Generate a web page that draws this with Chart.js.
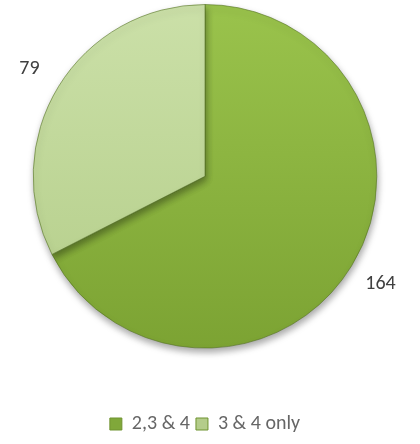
<!DOCTYPE html>
<html>
<head>
<meta charset="utf-8">
<script src="https://cdn.jsdelivr.net/npm/chart.js@4.4.1/dist/chart.umd.min.js"></script>
<style>
  html, body { margin: 0; padding: 0; background: #fff; }
  #wrap { width: 420px; height: 444px; }
</style>
</head>
<body>
<div id="wrap"><canvas id="canvas1"></canvas></div>
<script>
var categories = ['2,3 & 4', '3 & 4 only'];
var counts = [164, 79];
var topColors = ['#9ac34c', '#cbe0a8'];
var bottomColors = ['#7ca333', '#b3cd88'];
var boxColors = ['#80a83a', '#b4cc8a'];

// vertical gradient, lighter at top like the office-style bevel
function sliceFill(context) {
    var chart = context.chart;
    var area = chart.chartArea;
    var i = context.dataIndex;
    if (!area) return topColors[i];
    var g = chart.ctx.createLinearGradient(0, area.top, 0, area.bottom);
    g.addColorStop(0, topColors[i]);
    g.addColorStop(1, bottomColors[i]);
    return g;
}

var shadowPlugin = {
    id: 'pieShadow',
    beforeDatasetDraw: function(chart) {
        var ctx = chart.ctx;
        ctx.save();
        ctx.shadowColor = 'rgba(0,0,0,0.35)';
        ctx.shadowBlur = 7;
        ctx.shadowOffsetX = 1;
        ctx.shadowOffsetY = 4;
    },
    afterDatasetDraw: function(chart) {
        chart.ctx.restore();
    }
};

var outsideLabels = {
    id: 'outsideLabels',
    afterDatasetsDraw: function(chart) {
        var ctx = chart.ctx;
        var meta = chart.getDatasetMeta(0);
        ctx.save();
        ctx.font = '20px Carlito, Lato, sans-serif';
        ctx.fillStyle = '#404040';
        ctx.textAlign = 'center';
        ctx.textBaseline = 'middle';
        meta.data.forEach(function(arc, i) {
            var mid = (arc.startAngle + arc.endAngle) / 2;
            var r = arc.outerRadius + 34;
            var x = arc.x + Math.cos(mid) * r;
            var y = arc.y + Math.sin(mid) * r;
            ctx.fillText(String(chart.data.datasets[0].data[i]), x, y);
        });
        ctx.restore();
    }
};

var chartdata = {
    labels: categories,
    datasets: [
        {
            data: counts,
            backgroundColor: sliceFill,
            borderColor: 'rgba(85,115,35,0.6)',
            borderWidth: 1,
            hoverOffset: 0
        }
    ]
};

var ctx = document.getElementById('canvas1');
var pieChart = new Chart(ctx, {
    type: 'pie',
    data: chartdata,
    plugins: [shadowPlugin, outsideLabels],
    options: {
        responsive: true,
        maintainAspectRatio: false,
        animation: false,
        layout: { padding: { top: 4, left: 30, right: 40, bottom: 0 } },
        plugins: {
            tooltip: { enabled: false },
            legend: {
                position: 'bottom',
                title: { display: true, text: ' ', padding: { top: 45, bottom: 0 } },
                labels: {
                    boxWidth: 12,
                    boxHeight: 12,
                    padding: 6,
                    color: '#404040',
                    font: { family: 'Carlito, Lato, sans-serif', size: 20, lineHeight: 1 },
                    generateLabels: function(chart) {
                        return chart.data.labels.map(function(l, i) {
                            return {
                                text: l,
                                fillStyle: boxColors[i],
                                strokeStyle: '#6f9330',
                                lineWidth: 1,
                                index: i
                            };
                        });
                    }
                }
            }
        }
    }
});
</script>
</body>
</html>
